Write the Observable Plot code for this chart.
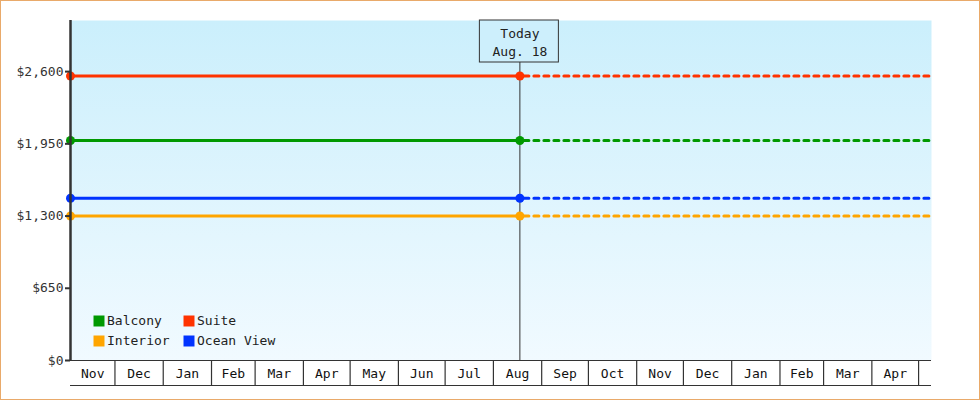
<!DOCTYPE html>
<html>
<head>
<meta charset="utf-8">
<script src="https://cdn.jsdelivr.net/npm/d3@7"></script>
<script src="https://cdn.jsdelivr.net/npm/@observablehq/plot@0.6"></script>
<style>
  html, body { margin: 0; padding: 0; background: #fff; }
  #chart { width: 980px; height: 400px; box-sizing: border-box; border: 1px solid #e9aa6a; overflow: hidden; }
  #chart svg { display: block; }
</style>
</head>
<body>
<div id="chart"></div>
<script>
// ---- data ----
const seriesNames  = ["Suite", "Balcony", "Ocean View", "Interior"];
const seriesPrices = [2560, 1980, 1460, 1300];
const seriesColors = ["#ff3300", "#009900", "#0033ff", "#ffa500"];
const legendOrder  = ["Balcony", "Suite", "Interior", "Ocean View"];
const yTicks       = [0, 650, 1300, 1950, 2600];
const startDate    = new Date(Date.UTC(2017, 10, 2, 11));
const todayDate    = new Date(Date.UTC(2018, 7, 18));
const endDate      = new Date(Date.UTC(2019, 4, 9, 7));
const todayLabel   = ["Today", "Aug. 18"];
const yMax         = 3060;

// ---- derived tables ----
const series = seriesNames.map((name, i) => ({name, price: seriesPrices[i], color: seriesColors[i]}));
const solid = series.flatMap(s => [{...s, date: startDate}, {...s, date: todayDate}]);
const dashed = series.flatMap(s => [{...s, date: todayDate}, {...s, date: endDate}]);
const monthBounds = d3.utcMonth.range(d3.utcMonth.ceil(startDate), endDate);
const monthLabels = d3.utcMonth.range(d3.utcMonth.floor(startDate), endDate)
  .map(m => ({m, a: m < startDate ? startDate : m, b: d3.utcMonth.offset(m, 1)}))
  .filter(d => d.b <= endDate)
  .map(d => ({label: d3.utcFormat("%b")(d.m), mid: new Date((+d.a + +d.b) / 2)}));
const colorOf = Object.fromEntries(series.map(s => [s.name, s.color]));

const font = "DejaVu Sans Mono";

const gradient = () => {
  const g = d3.create("svg:g");
  const lg = g.append("defs").append("linearGradient")
    .attr("id", "bgGrad").attr("x1", 0).attr("y1", 0).attr("x2", 0).attr("y2", 1);
  lg.append("stop").attr("offset", "0%").attr("stop-color", "#cbeffc");
  lg.append("stop").attr("offset", "100%").attr("stop-color", "#f1faff");
  return g.node();
};

const legendMarks = legendOrder.flatMap((name, i) => {
  const col = i % 2, row = Math.floor(i / 2);
  const dx = 28.5 + col * 90;
  const dy = -39.5 + row * 20;
  return [
    Plot.dot([name], {frameAnchor: "bottom-left", dx, dy, symbol: "square", r: 6.2, fill: colorOf[name], stroke: "none"}),
    Plot.text([name], {frameAnchor: "bottom-left", dx: dx + 8, dy, text: d => d, textAnchor: "start", lineAnchor: "middle", fill: "#222", fontSize: 13})
  ];
});

const chart = Plot.plot({
  width: 978,
  height: 398,
  marginLeft: 69,
  marginTop: 19,
  marginRight: 48,
  marginBottom: 39,
  style: {fontFamily: font, fontSize: "13px", background: "transparent", overflow: "visible"},
  x: {type: "utc", domain: [startDate, endDate], axis: null},
  y: {domain: [0, yMax], axis: null},
  color: {type: "identity"},
  marks: [
    gradient,
    Plot.frame({fill: "url(#bgGrad)", stroke: "none"}),
    Plot.ruleX([todayDate], {stroke: "#333", strokeWidth: 1}),
    Plot.rect([todayDate], {x1: d => d, x2: d => d, y1: yMax, y2: yMax, insetLeft: -40, insetRight: -39, insetBottom: -42,
      fill: "#cdeffc", stroke: "#333", strokeWidth: 1}),
    Plot.text([todayLabel.join("\n")], {x: todayDate, frameAnchor: "top", lineAnchor: "top", dy: 5, lineHeight: 1.38,
      text: d => d, fill: "#222", fontSize: 13}),
    Plot.line(solid, {x: "date", y: "price", z: "name", stroke: "color", strokeWidth: 3}),
    Plot.line(dashed, {x: "date", y: "price", z: "name", stroke: "color", strokeWidth: 3, strokeDasharray: "5,5", strokeDashoffset: -4}),
    Plot.dot(solid, {x: "date", y: "price", fill: "color", r: 4.5, symbol: "circle"}),
    // y axis
    Plot.axisY(yTicks, {label: null, tickSize: 5, tickPadding: 2, strokeWidth: 2, color: "#333", fill: "#333", fontSize: 13,
      tickFormat: d => "$" + d3.format(",")(d)}),
    Plot.ruleX([startDate], {stroke: "#333", strokeWidth: 2.5}),
    // x axis
    Plot.ruleY([0], {stroke: "#333", strokeWidth: 1.2}),
    Plot.ruleY([0], {stroke: "#333", strokeWidth: 1.2, dy: 25}),
    Plot.axisX(monthBounds, {label: null, tickSize: 25, tickFormat: () => "", stroke: "#333", strokeWidth: 1.2}),
    Plot.text(monthLabels, {x: "mid", frameAnchor: "bottom", dy: 13, text: "label", lineAnchor: "middle", fill: "#111", fontSize: 13}),
    ...legendMarks
  ]
});

document.getElementById("chart").appendChild(chart);
</script>
</body>
</html>
